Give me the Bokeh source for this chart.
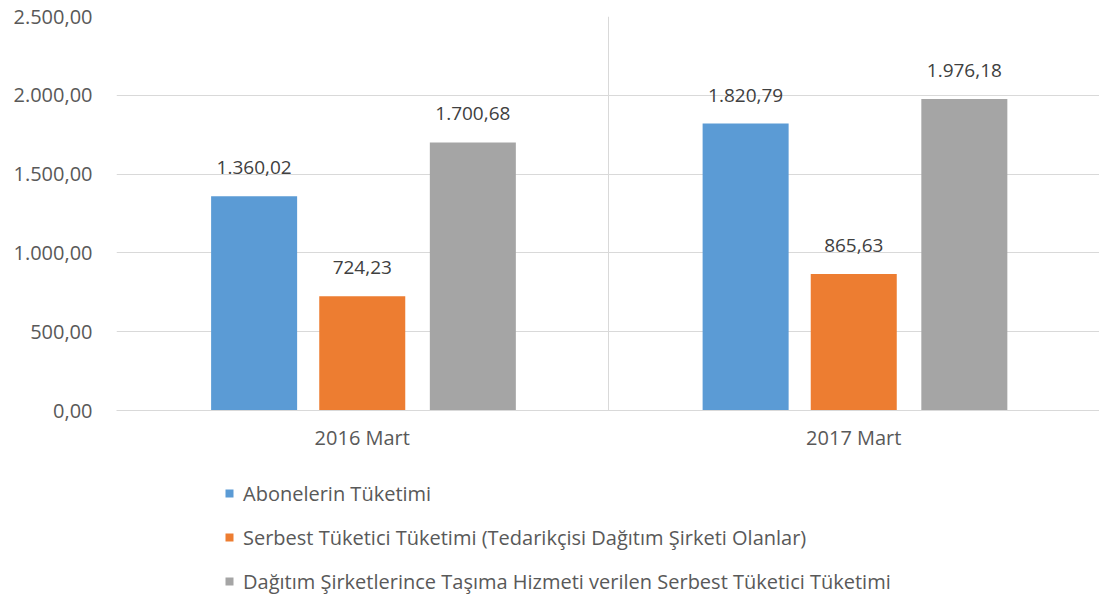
from bokeh.plotting import figure
from bokeh.layouts import column
from bokeh.models import (ColumnDataSource, Range1d, FixedTicker, CustomJSTickFormatter,
                          Legend, LegendItem)
from bokeh.core.properties import value
from bokeh.embed import file_html
from bokeh.resources import INLINE

categories = ["2016 Mart", "2017 Mart"]
series_names = [
    "Abonelerin Tüketimi",
    "Serbest Tüketici Tüketimi (Tedarikçisi Dağıtım Şirketi Olanlar)",
    "Dağıtım Şirketlerince Taşıma Hizmeti verilen Serbest Tüketici Tüketimi",
]
abone = [1360.02, 1820.79]
serbest = [724.23, 865.63]
dagitim = [1700.68, 1976.18]
y_ticks = [0, 500, 1000, 1500, 2000, 2500]

colors = ["#5B9BD5", "#ED7D31", "#A5A5A5"]
offsets = [-0.22, 0.0, 0.225]
bar_w = 0.175
FONT = "Open Sans"


def tr_fmt(v):
    s = f"{v:,.2f}"
    return s.replace(",", "X").replace(".", ",").replace("X", ".")


p = figure(width=1099, height=460, output_backend="svg", toolbar_location=None,
           x_range=Range1d(0, 2), y_range=Range1d(0, 2500),
           min_border_left=116, min_border_right=0, min_border_top=16, min_border_bottom=50)
p.outline_line_color = None
p.background_fill_color = "white"
p.border_fill_color = "white"

lg = figure(width=1099, height=140, output_backend="svg", toolbar_location=None,
            x_axis_type=None, y_axis_type=None, x_range=Range1d(0, 2), y_range=Range1d(0, 2500),
            min_border_left=0, min_border_right=0, min_border_top=0, min_border_bottom=0)
lg.outline_line_color = None
lg.xgrid.visible = False
lg.ygrid.visible = False

centers = [i + 0.5 for i in range(len(categories))]
items = []
for name, vals, col, off in zip(series_names, [abone, serbest, dagitim], colors, offsets):
    xs = [c + off for c in centers]
    src = ColumnDataSource(dict(x=xs, top=vals, label=[tr_fmt(v) for v in vals]))
    p.vbar(x="x", top="top", width=bar_w, source=src, fill_color=col, line_color=None)
    p.text(x="x", y="top", text="label", source=src, text_align="center",
           text_baseline="bottom", y_offset=-22, text_font=value(FONT),
           text_font_size="19px", text_color="#404040")
    # hidden copy in the legend panel, only used for the legend swatch
    r = lg.vbar(x="x", top="top", width=bar_w, source=src, fill_color=col,
                line_color=None, visible=False)
    items.append(LegendItem(label=name, renderers=[r]))

# x axis
p.xaxis.ticker = FixedTicker(ticks=centers)
p.xaxis.major_label_overrides = {c: lab for c, lab in zip(centers, categories)}
p.xaxis.major_tick_line_color = None
p.xaxis.minor_tick_line_color = None
p.xaxis.axis_line_color = "#D9D9D9"
p.xaxis.major_label_text_font = FONT
p.xaxis.major_label_text_font_size = "20px"
p.xaxis.major_label_text_color = "#595959"
p.xaxis.major_label_standoff = 7

# y axis
p.yaxis.ticker = FixedTicker(ticks=y_ticks)
p.yaxis.formatter = CustomJSTickFormatter(code="""
const s = Math.abs(tick).toFixed(2);
let parts = s.split('.');
let i = parts[0].replace(/\\B(?=(\\d{3})+(?!\\d))/g, '.');
return i + ',' + parts[1];
""")
p.yaxis.major_tick_line_color = None
p.yaxis.minor_tick_line_color = None
p.yaxis.axis_line_color = None
p.yaxis.major_label_text_font = FONT
p.yaxis.major_label_text_font_size = "20px"
p.yaxis.major_label_text_color = "#595959"
p.yaxis.major_label_standoff = 18

# grids
p.ygrid.ticker = FixedTicker(ticks=y_ticks)
p.ygrid.grid_line_color = "#D9D9D9"
p.xgrid.ticker = FixedTicker(ticks=[0, 1, 2])
p.xgrid.grid_line_color = "#D9D9D9"

legend = Legend(items=items, location=(108, 5), orientation="vertical", padding=0, margin=0,
                spacing=16, label_height=28, glyph_width=10, glyph_height=10,
                label_standoff=9, border_line_color=None, background_fill_alpha=0,
                inactive_fill_alpha=0,
                label_text_font=FONT, label_text_font_size="20px", label_text_color="#595959")
lg.add_layout(legend, "center")

open("out.html", "w").write(file_html(column(p, lg, spacing=0), INLINE))
